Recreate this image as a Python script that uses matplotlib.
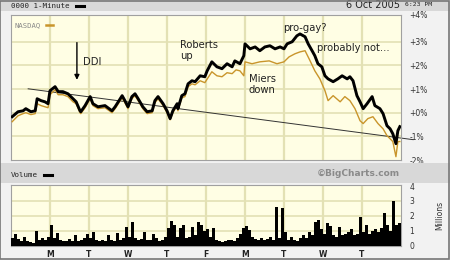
import matplotlib
matplotlib.use('Agg')
import matplotlib.pyplot as plt
from matplotlib.patches import Rectangle
from matplotlib.lines import Line2D

# intraday % change, x in trading days from start of window
black_day = [0.03, 0.18, 0.31, 0.38, 0.51, 0.62, 0.67, 0.77, 0.87, 0.95,
             1.00, 1.13, 1.21, 1.33, 1.46, 1.59, 1.67, 1.77, 1.79, 1.90,
             2.03, 2.10, 2.23, 2.41, 2.59, 2.67, 2.85, 2.92, 3.00, 3.10,
             3.18, 3.26, 3.38, 3.49, 3.62, 3.69, 3.77, 3.90, 4.00, 4.08,
             4.15, 4.26, 4.28, 4.38, 4.46, 4.54, 4.64, 4.72, 4.85, 4.97,
             5.03, 5.15, 5.28, 5.41, 5.54, 5.67, 5.74, 5.87, 5.97, 6.00,
             6.13, 6.26, 6.38, 6.51, 6.64, 6.77, 6.90, 7.00, 7.08, 7.21,
             7.33, 7.41, 7.54, 7.62, 7.72, 7.79, 7.87, 7.97, 8.05, 8.13,
             8.26, 8.38, 8.49, 8.62, 8.69, 8.77, 8.87, 8.95, 9.03, 9.13,
             9.26, 9.33, 9.46, 9.54, 9.64, 9.72, 9.79, 9.87, 9.92, 9.97]
black_pct = [-0.17, 0.04, 0.08, 0.17, 0.04, 0.08, 0.59, 0.51, 0.46, 0.38,
             0.93, 1.10, 0.89, 0.89, 0.80, 0.59, 0.46, 0.08, 0.04, 0.30,
             0.68, 0.38, 0.25, 0.30, 0.08, 0.25, 0.72, 0.51, 0.25, 0.68,
             0.80, 0.59, 0.25, 0.04, 0.08, 0.51, 0.68, 0.38, 0.08, -0.25,
             0.08, 0.38, 0.17, 0.72, 0.80, 1.22, 1.35, 1.31, 1.56, 1.52,
             1.77, 2.15, 1.94, 1.86, 2.07, 1.94, 2.19, 2.07, 2.41, 2.91,
             2.70, 2.78, 2.62, 2.78, 2.83, 2.70, 2.78, 2.70, 2.91, 3.00,
             3.25, 3.33, 3.21, 2.91, 2.62, 2.41, 2.07, 1.94, 1.56, 1.43,
             1.31, 1.43, 1.56, 1.43, 1.52, 1.35, 0.72, 0.46, 0.17, 0.38,
             0.68, 0.30, 0.17, -0.04, -0.55, -0.68, -0.89, -1.31, -0.76, -0.59]

nasdaq_day = [0.03, 0.18, 0.31, 0.38, 0.51, 0.62, 0.67, 0.77, 0.87, 0.95,
              1.00, 1.13, 1.21, 1.33, 1.46, 1.59, 1.67, 1.77, 1.79, 1.90,
              2.03, 2.10, 2.23, 2.41, 2.59, 2.67, 2.85, 2.92, 3.00, 3.10,
              3.18, 3.26, 3.38, 3.49, 3.62, 3.69, 3.77, 3.90, 4.00, 4.08,
              4.15, 4.26, 4.28, 4.38, 4.46, 4.54, 4.64, 4.72, 4.85, 4.97,
              5.15, 5.28, 5.41, 5.54, 5.67, 5.77, 5.87, 5.97, 6.00, 6.18,
              6.38, 6.62, 6.82, 7.00, 7.13, 7.28, 7.41, 7.54, 7.67, 7.79,
              7.92, 8.05, 8.13, 8.26, 8.44, 8.56, 8.69, 8.82, 8.95, 9.03,
              9.15, 9.28, 9.41, 9.54, 9.64, 9.72, 9.79, 9.87, 9.92, 9.97]
nasdaq_pct = [-0.38, -0.13, -0.04, 0.00, -0.08, -0.04, 0.38, 0.30, 0.25, 0.21,
              0.76, 0.97, 0.76, 0.76, 0.68, 0.46, 0.38, 0.00, -0.04, 0.21,
              0.59, 0.30, 0.17, 0.21, 0.00, 0.17, 0.63, 0.42, 0.17, 0.59,
              0.72, 0.51, 0.17, -0.04, 0.00, 0.42, 0.59, 0.30, 0.00, -0.30,
              0.00, 0.30, 0.08, 0.63, 0.68, 1.10, 1.22, 1.18, 1.35, 1.27,
              1.73, 1.56, 1.52, 1.69, 1.65, 1.81, 1.77, 1.56, 2.15, 2.07,
              2.15, 2.19, 2.07, 2.15, 2.36, 2.49, 2.57, 2.62, 2.19, 1.77,
              1.43, 0.93, 0.51, 0.72, 0.46, 0.68, 0.51, 0.17, -0.34, -0.46,
              -0.25, -0.17, -0.46, -0.68, -0.97, -1.10, -1.22, -1.86, -1.22, -1.22]

trend_day = [0.44, 10.31]
trend_pct = [1.01, -1.14]

# volume in millions, 13 buckets per day
volume = [0.5, 0.8, 0.45, 0.3, 0.55, 0.3, 0.25, 0.2, 0.95, 0.4, 0.5, 0.35, 0.6,
          1.35, 0.5, 0.85, 0.4, 0.3, 0.3, 0.45, 0.3, 0.7, 0.3, 0.35, 0.5, 0.75,
          0.5, 0.9, 0.4, 0.3, 0.35, 0.3, 0.7, 0.4, 0.3, 0.85, 0.4, 0.5, 1.25,
          0.6, 1.55, 0.5, 0.4, 0.45, 0.9, 0.4, 0.35, 0.8, 0.5, 0.3, 0.4, 0.6,
          1.15, 1.65, 1.4, 0.6, 1.2, 1.35, 0.5, 0.6, 1.25, 0.7, 1.55, 1.4, 1.0,
          1.1, 0.6, 1.2, 0.4, 0.3, 0.25, 0.3, 0.35, 0.4, 0.3, 0.5, 0.8, 1.2,
          1.3, 1.05, 0.6, 0.45, 0.4, 0.5, 0.35, 0.45, 0.6, 0.4, 2.6, 0.5, 2.5,
          0.9, 0.4, 0.6, 0.4, 0.3, 0.5, 0.7, 0.5, 0.9, 0.7, 1.6, 1.7, 1.1,
          0.8, 1.5, 1.3, 0.7, 0.6, 1.25, 0.7, 0.8, 0.9, 1.1, 0.7, 0.8, 1.9,
          0.9, 1.4, 0.8, 1.0, 1.1, 0.9, 1.2, 2.2, 1.4, 1.0, 3.0, 1.4, 1.5]
vol_day = [i / 13 + 0.5 / 13 for i in range(len(volume))]

day_labels = ['M', 'T', 'W', 'T', 'F', 'M', 'T', 'W', 'T']
pct_ticks = [-2, -1, 0, 1, 2, 3]
pct_labels = ['-2%', '-1%', '+0%', '+1%', '+2%', '+3%']

notes = [(4.33, 3.08, 'Roberts\nup', 'top'),
         (6.10, 1.65, 'Miers\ndown', 'top'),
         (6.97, 3.59, 'pro-gay?', 'center'),
         (7.85, 2.74, 'probably not...', 'center'),
         (1.85, 2.15, 'DDI', 'center')]

W, H = 450, 260
BG = '#FFFEE4'
GRID = '#E3E1B4'
BAND = '#D8D8D8'
GOLD = '#C9952B'


def fx(x):
    return x / W


def fy(y):
    return 1 - y / H


fig = plt.figure(figsize=(4.5, 2.6), dpi=100)
fig.patch.set_facecolor('#F2F2F2')

# grey bands and outer frame
fig.patches.append(Rectangle((0, fy(11)), 1, 11 / H, transform=fig.transFigure,
                             facecolor=BAND, edgecolor='none', zorder=0))
fig.patches.append(Rectangle((0, fy(183)), 1, 20 / H, transform=fig.transFigure,
                             facecolor=BAND, edgecolor='none', zorder=0))
fig.patches.append(Rectangle((0.001, 0.002), 0.997, 0.996, transform=fig.transFigure,
                             facecolor='none', edgecolor='#777777', lw=1.2, zorder=5))

mono = 'DejaVu Sans Mono'

# --- price panel ---
ax = fig.add_axes([fx(11), fy(160), 390 / W, 145 / H])
ax.set_facecolor(BG)
ax.set_xlim(0, 10)
ax.set_ylim(-1.98, 4.13)
for d in range(1, 10):
    ax.axvline(d, color=GRID, lw=1.6, zorder=0)
for p in [-1, 0, 1, 2, 3]:
    ax.axhline(p, color=GRID, lw=1.2, zorder=0)

ax.plot(trend_day, trend_pct, color='#333333', lw=0.7, zorder=2, clip_on=False)
ax.plot(nasdaq_day, nasdaq_pct, color=GOLD, lw=1.0, zorder=3)
ax.plot(black_day, black_pct, color='black', lw=2.1, zorder=4)

for x, y, s, va in notes:
    ax.text(x, y, s, fontsize=7.2, color='#222222', ha='left', va=va,
            linespacing=1.15, zorder=6)
ax.annotate('', xy=(1.69, 1.27), xytext=(1.69, 3.08),
            arrowprops=dict(arrowstyle='-|>', color='black', lw=1.0,
                            mutation_scale=7))

ax.text(0.08, 3.7, 'NASDAQ', family=mono, fontsize=5.2, color='#888888',
        va='center', ha='left')
ax.plot([0.9, 1.08], [3.7, 3.7], color=GOLD, lw=1.8)

ax.set_xticks([])
ax.set_yticks(pct_ticks)
ax.set_yticklabels(pct_labels)
ax.yaxis.tick_right()
ax.tick_params(axis='y', length=0, pad=6, labelsize=5.5, labelcolor='#333333')
ax.text(1.02, 4.1, '+4%', transform=ax.get_yaxis_transform(), fontsize=5.5,
        color='#333333', va='center', ha='left', clip_on=False)
for sp in ax.spines.values():
    sp.set_color('#A0A0A0')
    sp.set_linewidth(0.8)

# --- volume panel ---
vx = fig.add_axes([fx(11), fy(245.5), 390 / W, 60.5 / H])
vx.set_facecolor(BG)
vx.set_xlim(0, 10)
vx.set_ylim(0, 4.07)
for d in range(1, 10):
    vx.axvline(d, color=GRID, lw=1.6, zorder=0)
for v in [1, 2, 3]:
    vx.axhline(v, color=GRID, lw=1.2, zorder=0)
vx.bar(vol_day, volume, width=0.7 / 13, color='black', edgecolor='none', zorder=3)
vx.set_xticks(range(1, 10))
vx.set_xticklabels(day_labels, fontweight='bold')
vx.tick_params(axis='x', length=0, pad=3, labelsize=5.5, labelcolor='#222222')
vx.set_yticks([0, 1, 2, 3, 4])
vx.yaxis.tick_right()
vx.tick_params(axis='y', length=0, pad=6, labelsize=5.5, labelcolor='#333333')
vx.text(1.1, 0.5, 'Millions', transform=vx.transAxes, rotation=90, fontsize=5.5,
        color='#333333', ha='center', va='center')
for sp in vx.spines.values():
    sp.set_color('#A0A0A0')
    sp.set_linewidth(0.8)

# --- header and band texts ---
fig.text(fx(11), fy(5.5), '0000 1-Minute', family=mono, fontsize=5.4,
         color='#222222', va='center', ha='left')
fig.add_artist(Line2D([fx(76), fx(84)], [fy(5.5), fy(5.5)], color='black', lw=2.2))
fig.text(fx(400), fy(5.5), '6 Oct 2005', fontsize=7, color='#222222',
         va='center', ha='right')
fig.text(fx(405), fy(5), '6:23 PM', family=mono, fontsize=4.6,
         color='#222222', va='center', ha='left')
fig.text(fx(11), fy(175), 'Volume', family=mono, fontsize=5.4,
         color='#222222', va='center', ha='left')
fig.add_artist(Line2D([fx(44), fx(52)], [fy(175), fy(175)], color='black', lw=2.2))
fig.text(fx(400), fy(174), '\u00a9BigCharts.com', fontsize=6.5, fontweight='bold',
         color='#8A8A8A', va='center', ha='right')

fig.savefig('out.png', dpi=100, facecolor=fig.get_facecolor())
